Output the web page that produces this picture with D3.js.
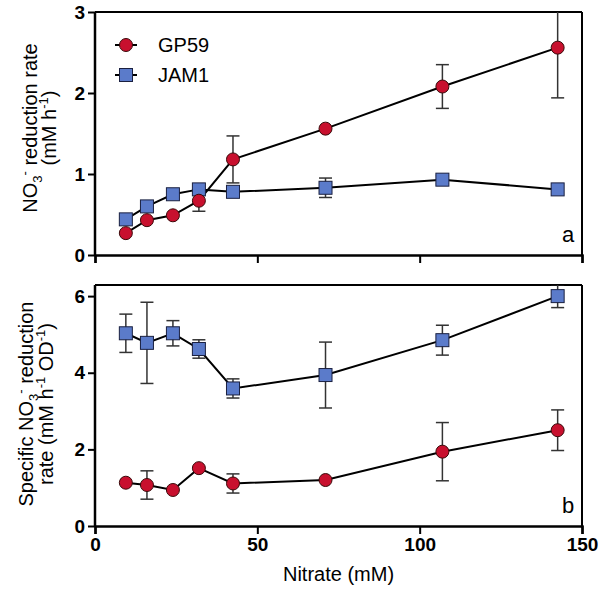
<!DOCTYPE html>
<html>
<head>
<meta charset="utf-8">
<script src="https://cdn.jsdelivr.net/npm/d3@7"></script>
<style>
body { margin: 0; background: #fff; }
svg { font-family: "Liberation Sans", Arial, sans-serif; }
</style>
</head>
<body>
<div id="chart"></div>
<script>
// nitrate concentrations (mM)
var nitrate = [9.5, 16, 24, 32, 42.5, 71, 107, 142.5];

// panel a: NO3- reduction rate (mM h-1)
var gpRate = [0.27, 0.43, 0.49, 0.67, 1.18, 1.56, 2.08, 2.56];
var gpRateErr = [0, 0, 0, 0.13, 0.29, 0, 0.27, 0.62];
var jamRate = [0.44, 0.60, 0.75, 0.81, 0.78, 0.83, 0.93, 0.81];
var jamRateErr = [0, 0, 0, 0, 0, 0.12, 0.05, 0];

// panel b: specific NO3- reduction rate (mM h-1 OD-1)
var gpSpec = [1.13, 1.07, 0.94, 1.51, 1.11, 1.20, 1.94, 2.50];
var gpSpecErr = [0, 0.37, 0, 0, 0.25, 0, 0.76, 0.53];
var jamSpec = [5.03, 4.78, 5.03, 4.62, 3.59, 3.94, 4.85, 6.0];
var jamSpecErr = [0.50, 1.06, 0.33, 0.24, 0.25, 0.86, 0.39, 0.30];

var xTicks = [0, 50, 100, 150];
var yTicksA = [0, 1, 2, 3];
var yTicksB = [0, 2, 4, 6];

var red = "#c8102e", blue = "#5b7bca";

var svgWidth = 600, svgHeight = 590;
var left = 95, right = 582;

var svg = d3.select("#chart").append("svg")
    .attr("width", svgWidth)
    .attr("height", svgHeight);

var x = d3.scaleLinear().domain([0, 150]).range([left, right]);

function series(vals, errs) {
    return nitrate.map((n, i) => ({x: n, y: vals[i], e: errs[i]}));
}

function drawPanel(opts) {
    var y = d3.scaleLinear().domain(opts.domain).range([opts.bottom, opts.top]);
    var g = svg.append("g");

    var clipId = "clip" + opts.letter;
    svg.append("clipPath").attr("id", clipId)
        .append("rect")
        .attr("x", left).attr("y", opts.top)
        .attr("width", right - left).attr("height", opts.bottom - opts.top);

    // frame: top and right thinner
    g.append("line").attr("x1", left).attr("x2", right).attr("y1", opts.top).attr("y2", opts.top)
        .attr("stroke", "#000").attr("stroke-width", 2);
    g.append("line").attr("x1", right).attr("x2", right).attr("y1", opts.top).attr("y2", opts.bottom)
        .attr("stroke", "#000").attr("stroke-width", 2);

    // x axis
    var bottomAxis = d3.axisBottom(x).tickValues(xTicks).tickSize(8).tickPadding(4)
        .tickFormat(opts.showX ? d3.format("d") : "");
    var xg = g.append("g").attr("transform", `translate(0, ${opts.bottom})`).call(bottomAxis);
    xg.select(".domain").attr("stroke-width", 2.5);
    xg.selectAll(".tick line").attr("stroke-width", 2);
    xg.selectAll("text").attr("font-size", "19px").attr("font-weight", "bold").attr("fill", "#000");

    // y axis
    var leftAxis = d3.axisLeft(y).tickValues(opts.ticks).tickSize(7).tickPadding(3)
        .tickFormat(d3.format("d"));
    var yg = g.append("g").attr("transform", `translate(${left}, 0)`).call(leftAxis);
    yg.select(".domain").attr("stroke-width", 2.5)
        .attr("d", `M0,${opts.top}V${opts.bottom}`);
    yg.selectAll(".tick line").attr("stroke-width", 2);
    yg.selectAll("text").attr("font-size", "19px").attr("font-weight", "bold").attr("fill", "#000");

    var plot = g.append("g").attr("clip-path", `url(#${clipId})`);
    var line = d3.line().x(d => x(d.x)).y(d => y(d.y));

    opts.sets.forEach(s => {
        plot.append("path").datum(s.data)
            .attr("d", line)
            .attr("fill", "none")
            .attr("stroke", "#000")
            .attr("stroke-width", 2);
    });

    opts.sets.forEach(s => {
        var eb = plot.selectAll(null).data(s.data.filter(d => d.e > 0)).enter().append("g")
            .attr("stroke", "#333").attr("stroke-width", 1.5);
        eb.append("line")
            .attr("x1", d => x(d.x)).attr("x2", d => x(d.x))
            .attr("y1", d => y(d.y - d.e)).attr("y2", d => y(d.y + d.e));
        eb.append("line")
            .attr("x1", d => x(d.x) - 6.5).attr("x2", d => x(d.x) + 6.5)
            .attr("y1", d => y(d.y - d.e)).attr("y2", d => y(d.y - d.e));
        eb.append("line")
            .attr("x1", d => x(d.x) - 6.5).attr("x2", d => x(d.x) + 6.5)
            .attr("y1", d => y(d.y + d.e)).attr("y2", d => y(d.y + d.e));
    });

    opts.sets.forEach(s => {
        if (s.shape === "circle") {
            g.selectAll(null).data(s.data).enter().append("circle")
                .attr("cx", d => x(d.x)).attr("cy", d => y(d.y))
                .attr("r", 6.5)
                .attr("fill", red).attr("stroke", "#3a0a0a").attr("stroke-width", 1);
        } else {
            g.selectAll(null).data(s.data).enter().append("rect")
                .attr("x", d => x(d.x) - 6.5).attr("y", d => y(d.y) - 6.5)
                .attr("width", 13).attr("height", 13)
                .attr("fill", blue).attr("stroke", "#1a2040").attr("stroke-width", 1);
        }
    });

    g.append("text")
        .attr("x", right - 14).attr("y", opts.bottom - 13)
        .attr("text-anchor", "middle")
        .attr("font-size", "22px")
        .text(opts.letter);

    return y;
}

drawPanel({
    top: 12, bottom: 255, domain: [0, 3], ticks: yTicksA, letter: "a", showX: false,
    sets: [
        {data: series(jamRate, jamRateErr), shape: "square"},
        {data: series(gpRate, gpRateErr), shape: "circle"}
    ]
});

drawPanel({
    top: 285, bottom: 526, domain: [0, 6.29], ticks: yTicksB, letter: "b", showX: true,
    sets: [
        {data: series(jamSpec, jamSpecErr), shape: "square"},
        {data: series(gpSpec, gpSpecErr), shape: "circle"}
    ]
});

// axis titles
svg.append("text")
    .attr("x", (left + right) / 2).attr("y", 581)
    .attr("text-anchor", "middle")
    .attr("font-size", "20px")
    .text("Nitrate (mM)");

function yTitle(cy, rows, lines) {
    var t = svg.append("text")
        .attr("transform", `translate(0, ${cy}) rotate(-90)`)
        .attr("text-anchor", "middle")
        .attr("font-size", "20px");
    lines.forEach((parts, i) => {
        var row = t.append("tspan").attr("x", 0).attr("y", rows[i]);
        parts.forEach(p => {
            var s = row.append("tspan").text(p.t);
            if (p.sub) s.attr("font-size", "13px").attr("dy", 5);
            if (p.sup) s.attr("font-size", "13px").attr("dy", p.dy);
            if (p.back) s.attr("dy", p.back);
        });
    });
}

yTitle(128, [37, 56], [
    [{t: "NO"}, {t: "3", sub: true}, {t: "-", sup: true, dy: -13}, {t: " reduction rate", back: 8}],
    [{t: "(mM h"}, {t: "-1", sup: true, dy: -8}, {t: ")", back: 8}]
]);

yTitle(404, [33, 53], [
    [{t: "Specific NO"}, {t: "3", sub: true}, {t: "-", sup: true, dy: -13}, {t: " reduction", back: 8}],
    [{t: "rate (mM h"}, {t: "-1", sup: true, dy: -8}, {t: " OD", back: 8}, {t: "-1", sup: true, dy: -8}, {t: ")", back: 8}]
]);

// legend
var legend = [
    {label: "GP59", shape: "circle", y: 45},
    {label: "JAM1", shape: "square", y: 75}
];
legend.forEach(l => {
    svg.append("line").attr("x1", 115).attr("x2", 137).attr("y1", l.y).attr("y2", l.y)
        .attr("stroke", "#000").attr("stroke-width", 2);
    if (l.shape === "circle") {
        svg.append("circle").attr("cx", 126).attr("cy", l.y).attr("r", 6.5)
            .attr("fill", red).attr("stroke", "#3a0a0a");
    } else {
        svg.append("rect").attr("x", 119.5).attr("y", l.y - 6.5).attr("width", 13).attr("height", 13)
            .attr("fill", blue).attr("stroke", "#1a2040");
    }
    svg.append("text").attr("x", 158).attr("y", l.y + 7)
        .attr("font-size", "20px").text(l.label);
});
</script>
</body>
</html>
